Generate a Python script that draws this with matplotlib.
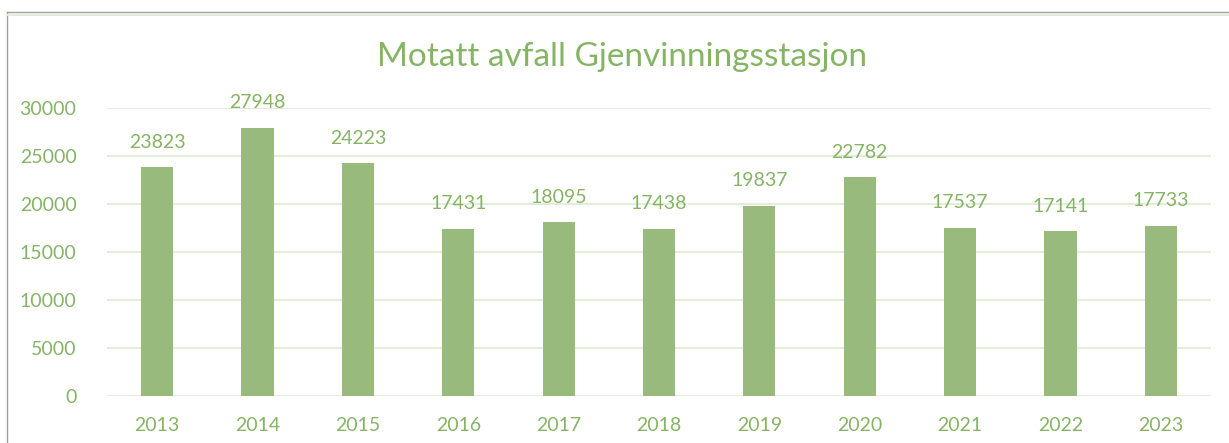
import matplotlib.pyplot as plt
from matplotlib.lines import Line2D

plt.rcParams['font.family'] = ['Lato', 'DejaVu Sans']

years = ['2013', '2014', '2015', '2016', '2017', '2018',
         '2019', '2020', '2021', '2022', '2023']
values = [23823, 27948, 24223, 17431, 18095, 17438,
          19837, 22782, 17537, 17141, 17733]
yticks = [0, 5000, 10000, 15000, 20000, 25000, 30000]

bar_color = '#98BA7D'
text_color = '#86B465'
grid_color = '#E3EEDA'

fig = plt.figure(figsize=(12.29, 4.43), dpi=100)
W, H = 1229, 443
# plot area in pixels: x 107..1211, y 108 (30000) .. 396 (0)
ax = fig.add_axes([107 / W, 1 - 396 / H, 1104 / W, 288 / H])

x = range(len(years))
ax.bar(x, values, width=0.32, color=bar_color, zorder=3)
ax.set_xlim(-0.5, len(years) - 0.5)
ax.set_ylim(0, 30000)
ax.set_yticks(yticks)
ax.set_xticks(list(x))
ax.set_xticklabels(years)
ax.tick_params(axis='both', length=0, labelsize=14, colors=text_color)
ax.tick_params(axis='y', pad=22)
ax.tick_params(axis='x', pad=15)
ax.yaxis.grid(True, color=grid_color, linewidth=1.5, zorder=0)
for s in ax.spines.values():
    s.set_visible(False)

for xi, v in zip(x, values):
    ax.annotate(str(v), (xi, v), xytext=(0, 12), textcoords='offset points',
                ha='center', va='bottom', fontsize=14, color=text_color)

fig.text(622 / W, 1 - 57 / H, 'Motatt avfall Gjenvinningsstasjon',
         ha='center', va='center', fontsize=24, color=text_color)

# frame lines of the chart object
fig.add_artist(Line2D([7 / W, 1], [1 - 12 / H, 1 - 12 / H], color='#A0A0A0', lw=1))
fig.add_artist(Line2D([7 / W, 7 / W], [0, 1 - 12 / H], color='#A0A0A0', lw=1))
fig.add_artist(Line2D([7 / W, 1], [1 - 14.5 / H, 1 - 14.5 / H], color=grid_color, lw=1.5))

fig.savefig('out.png', dpi=100, facecolor='white')
